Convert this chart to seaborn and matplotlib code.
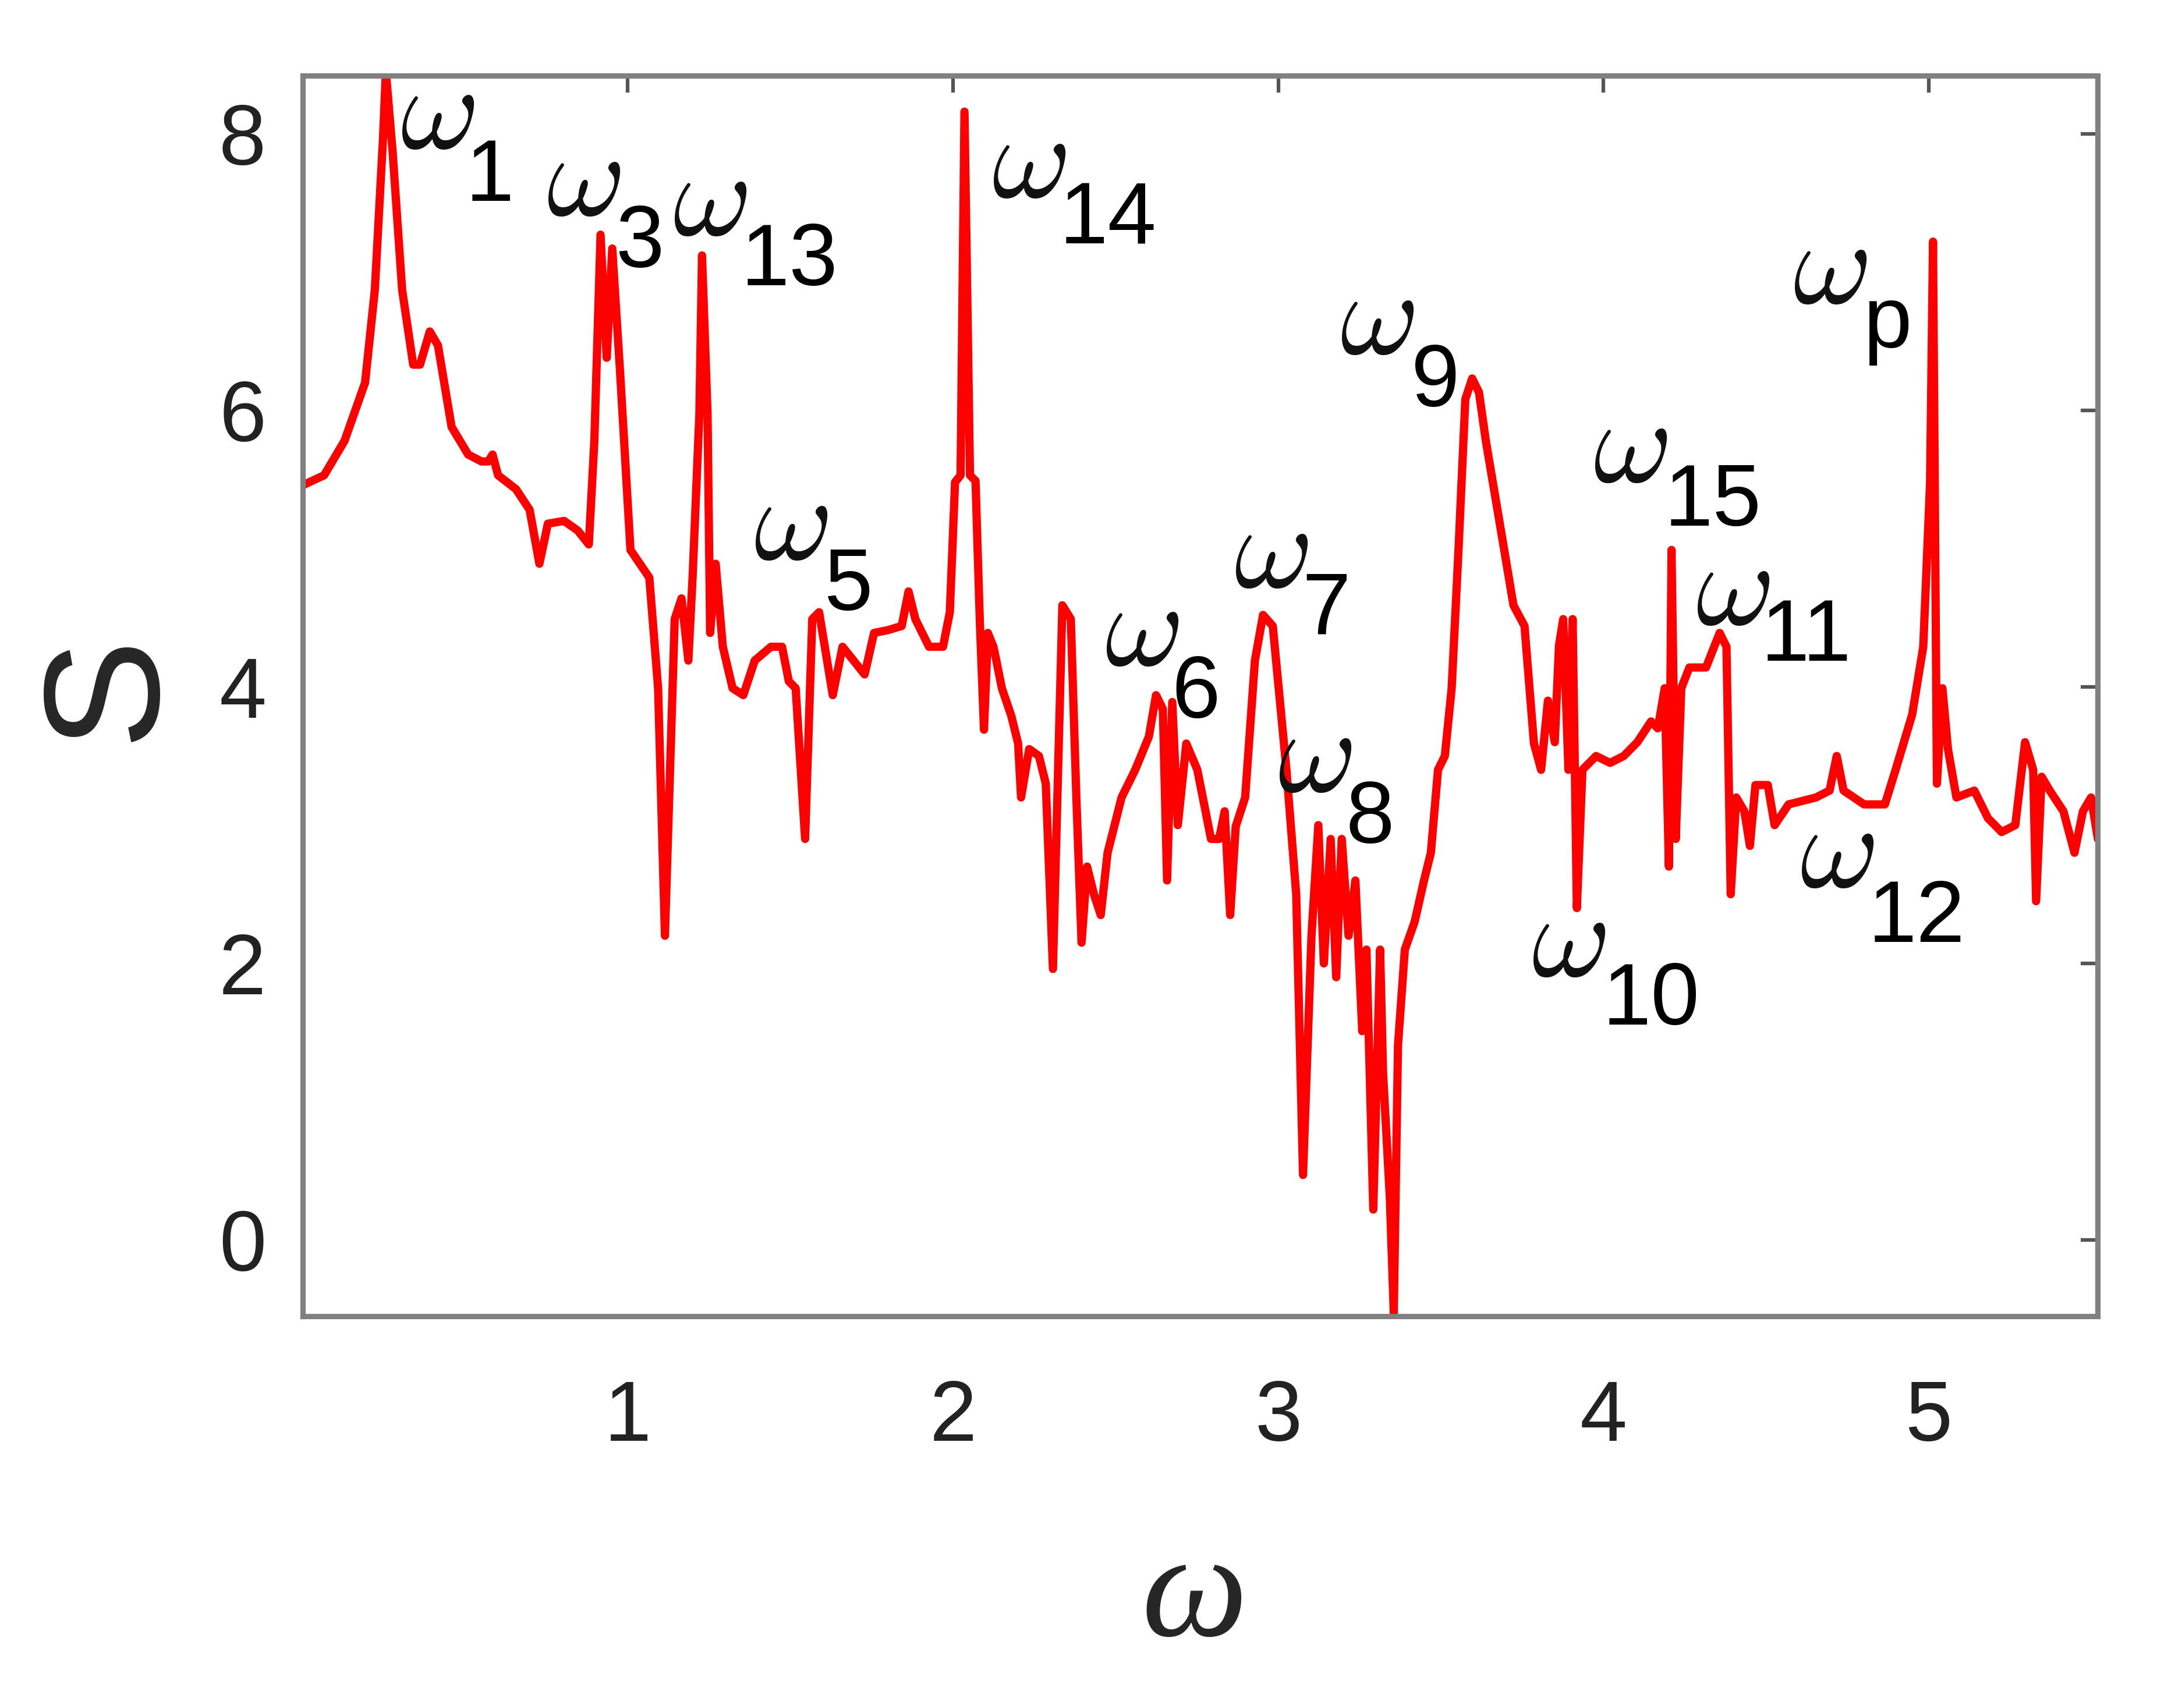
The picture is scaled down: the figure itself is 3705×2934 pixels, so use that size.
import matplotlib
matplotlib.use("Agg")
import matplotlib.pyplot as plt
import seaborn as sns
import pandas as pd

# ---- data ----
omega = [0.002, 0.066, 0.129, 0.192, 0.222, 0.247, 0.256, 0.277, 0.306, 0.340, 0.361, 0.391, 0.416,
         0.458, 0.509, 0.550, 0.571, 0.584, 0.601, 0.656, 0.698, 0.728, 0.754, 0.804, 0.846, 0.880,
         0.897, 0.916, 0.916, 0.935, 0.952, 0.976, 1.008, 1.037, 1.066, 1.093, 1.114, 1.144, 1.165,
         1.186, 1.199, 1.220, 1.228, 1.245, 1.253, 1.270, 1.292, 1.322, 1.355, 1.390, 1.440, 1.474,
         1.495, 1.516, 1.545, 1.567, 1.588, 1.609, 1.630, 1.660, 1.694, 1.728, 1.757, 1.799, 1.842,
         1.863, 1.884, 1.926, 1.969, 1.990, 2.006, 2.023, 2.035, 2.052, 2.069, 2.082, 2.095, 2.107,
         2.124, 2.133, 2.150, 2.179, 2.200, 2.209, 2.234, 2.264, 2.285, 2.307, 2.336, 2.362, 2.379,
         2.395, 2.412, 2.433, 2.454, 2.475, 2.518, 2.560, 2.602, 2.624, 2.645, 2.658, 2.674, 2.691,
         2.717, 2.751, 2.793, 2.818, 2.835, 2.852, 2.869, 2.898, 2.928, 2.953, 2.983, 3.025, 3.055,
         3.076, 3.102, 3.123, 3.140, 3.161, 3.178, 3.195, 3.216, 3.237, 3.258, 3.271, 3.292, 3.313,
         3.322, 3.343, 3.355, 3.368, 3.389, 3.419, 3.448, 3.469, 3.491, 3.512, 3.533, 3.554, 3.575,
         3.596, 3.617, 3.638, 3.681, 3.723, 3.757, 3.786, 3.808, 3.829, 3.850, 3.863, 3.876, 3.892,
         3.905, 3.918, 3.935, 3.977, 4.020, 4.062, 4.104, 4.146, 4.167, 4.188, 4.201, 4.209, 4.222,
         4.239, 4.264, 4.315, 4.357, 4.378, 4.391, 4.408, 4.433, 4.450, 4.467, 4.505, 4.526, 4.569,
         4.653, 4.695, 4.717, 4.738, 4.801, 4.865, 4.898, 4.949, 4.983, 5.004, 5.013, 5.025, 5.042,
         5.059, 5.085, 5.140, 5.182, 5.224, 5.266, 5.296, 5.321, 5.330, 5.347, 5.372, 5.414, 5.448,
         5.474, 5.499, 5.520]
S = [5.46, 5.53, 5.78, 6.20, 6.87, 7.96, 8.45, 7.86, 6.87, 6.33, 6.33, 6.57, 6.47, 5.88, 5.68, 5.63,
     5.63, 5.68, 5.53, 5.43, 5.28, 4.89, 5.18, 5.20, 5.13, 5.03, 5.78, 7.27, 7.27, 6.38, 7.17, 6.28,
     4.99, 4.89, 4.79, 3.99, 2.20, 4.49, 4.64, 4.19, 4.79, 5.98, 7.12, 5.98, 4.39, 4.89, 4.29, 3.99,
     3.94, 4.19, 4.29, 4.29, 4.04, 3.99, 2.90, 4.49, 4.54, 4.24, 3.94, 4.29, 4.19, 4.09, 4.39, 4.41,
     4.44, 4.69, 4.49, 4.29, 4.29, 4.54, 5.48, 5.53, 8.16, 5.53, 5.49, 4.49, 3.69, 4.39, 4.29, 4.19,
     3.99, 3.79, 3.59, 3.20, 3.55, 3.50, 3.30, 1.96, 4.59, 4.49, 3.20, 2.15, 2.70, 2.50, 2.35, 2.80,
     3.20, 3.40, 3.64, 3.94, 3.84, 2.60, 3.89, 3.00, 3.59, 3.40, 2.90, 2.90, 3.10, 2.35, 2.99, 3.20,
     4.19, 4.52, 4.44, 3.40, 2.50, 0.47, 2.20, 3.00, 2.00, 2.90, 1.90, 2.90, 2.20, 2.60, 1.51, 2.10,
     0.22, 2.10, 1.21, 0.30, -0.53, 1.41, 2.10, 2.30, 2.60, 2.80, 3.40, 3.50, 3.99, 4.99, 6.08, 6.23,
     6.13, 5.78, 5.18, 4.59, 4.44, 3.59, 3.40, 3.90, 3.60, 4.30, 4.49, 3.40, 4.49, 2.40, 3.40, 3.50,
     3.45, 3.50, 3.60, 3.75, 3.70, 3.99, 2.70, 4.99, 2.90, 3.99, 4.14, 4.14, 4.39, 4.29, 2.50, 3.20,
     3.10, 2.85, 3.29, 3.29, 3.00, 3.15, 3.20, 3.25, 3.50, 3.25, 3.15, 3.15, 3.40, 3.80, 4.29, 5.48,
     7.22, 3.30, 3.99, 3.55, 3.20, 3.25, 3.05, 2.95, 3.00, 3.60, 3.40, 2.45, 3.35, 3.25, 3.10, 2.80,
     3.10, 3.20, 2.90]

label_sym = ["1", "3", "13", "5", "14", "6", "7", "8", "9", "15", "11", "10", "12", "p"]
# baseline positions of the omega glyph and of its subscript (data coordinates)
label_omega_x = [0.414, 0.863, 1.252, 1.500, 2.232, 2.580, 2.977, 3.112, 3.304, 4.082, 4.397, 3.892, 4.717, 4.695]
label_omega_y = [7.894, 7.410, 7.267, 4.923, 7.541, 4.154, 4.721, 3.242, 6.406, 5.482, 4.450, 1.907, 2.552, 6.773]
label_sub_x = [0.575, 1.037, 1.496, 1.679, 2.476, 2.746, 3.147, 3.281, 3.483, 4.336, 4.623, 4.146, 4.962, 4.873]
label_sub_y = [7.516, 7.036, 6.906, 4.557, 7.205, 3.775, 4.386, 2.871, 6.028, 5.164, 4.191, 1.559, 2.155, 6.455]

xticks = [1, 2, 3, 4, 5]
yticks = [0, 2, 4, 6, 8]

# ---- plot ----
sns.set_style("white")
plt.rcParams["font.family"] = ["Liberation Sans", "DejaVu Sans"]

fig = plt.figure(figsize=(3705 / 300, 2934 / 300), dpi=300)
ax = fig.add_axes([0.1403, 0.2295, 0.8323, 0.7262])

df = pd.DataFrame({"omega": omega, "S": S})
sns.lineplot(data=df, x="omega", y="S", ax=ax, color="#ff0000", linewidth=3.4,
             sort=False, estimator=None)

ax.set_xlim(0, 5.52)
ax.set_ylim(-0.55, 8.42)
ax.set_xticks(xticks)
ax.set_yticks(yticks)
ax.tick_params(direction="in", length=7, width=1.5, color="#555555",
               labelsize=35, labelcolor="#222222", top=True, right=True)
ax.tick_params(axis="x", pad=26)
ax.tick_params(axis="y", pad=15)
for sp in ax.spines.values():
    sp.set_visible(True)
    sp.set_color("#808080")
    sp.set_linewidth(2.2)

ax.set_xlabel("ω", fontsize=62, family=["Liberation Serif", "DejaVu Serif"], style="italic",
              va="center", ha="center")
ax.xaxis.set_label_coords(0.4966, -0.228)
ax.set_ylabel("S", fontsize=68, va="center", ha="center")
ax.yaxis.set_label_coords(-0.108, 0.507)

for s, ox, oy, sx, sy in zip(label_sym, label_omega_x, label_omega_y, label_sub_x, label_sub_y):
    ax.text(ox, oy, r"$\omega$", fontsize=50, math_fontfamily="cm",
            ha="center", va="baseline", color="#111111")
    ax.text(sx, sy, s, fontsize=36, ha="center", va="baseline", color="black")

fig.savefig("out.png", dpi=300, facecolor="white")
